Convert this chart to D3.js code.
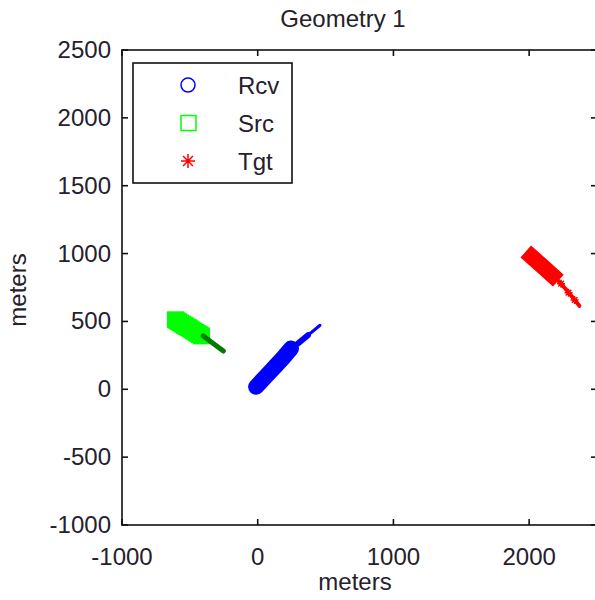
<!DOCTYPE html>
<html>
<head>
<meta charset="utf-8">
<script src="https://cdn.jsdelivr.net/npm/d3@7"></script>
<style>
  body { margin: 0; background: #fff; }
  svg { display: block; font-family: "Liberation Sans", Arial, sans-serif; }
</style>
</head>
<body>
<div id="chart"></div>
<script>
// axis ticks
var xTicks = [-1000, 0, 1000, 2000];
var yTicks = [-1000, -500, 0, 500, 1000, 1500, 2000, 2500];

// Rcv track (blue circles): thick body, then thin tail and tip
var rcvBodyX = [-12, 60, 130, 190, 245];
var rcvBodyY = [18, 95, 170, 235, 300];
var rcvTailX = [245, 300, 370];
var rcvTailY = [300, 340, 398];
var rcvTipX = [370, 415, 459];
var rcvTipY = [398, 435, 472];

// Src track (green squares) and its dark green tail
var srcBodyX = [-606, -594, -582, -568, -553, -540, -527, -512, -498, -484, -470, -455, -441, -428, -414];
var srcBodyY = [512, 505, 497, 489, 480, 471, 463, 455, 446, 437, 428, 419, 410, 402, 394];
var srcTailX = [-401, -330, -253];
var srcTailY = [393, 340, 282];

// Tgt track (red stars)
var tgtBodyX = [1975, 2100, 2215];
var tgtBodyY = [1015, 905, 800];
var tgtTailX = [2215, 2290, 2370];
var tgtTailY = [800, 715, 615];
var tgtSpikeX = [2235, 2290, 2335];
var tgtSpikeY = [778, 712, 658];

var legendNames = ["Rcv", "Src", "Tgt"];
var legendColors = ["#0000ff", "#00ff00", "#ff0000"];

var width = 595, height = 600;
var m = {left: 122, right: 597, top: 50, bottom: 525};

var svg = d3.select("#chart").append("svg")
    .attr("width", width)
    .attr("height", height);

var x = d3.scaleLinear().domain([-1000, 2500]).range([m.left, m.right]);
var y = d3.scaleLinear().domain([-1000, 2500]).range([m.bottom, m.top]);

function pts(xs, ys) {
    return xs.map(function (v, i) { return [v, ys[i]]; });
}
var line = d3.line()
    .x(function (d) { return x(d[0]); })
    .y(function (d) { return y(d[1]); });

// 8 point star like matlab '*'
function star(r) {
    var p = d3.path();
    for (var k = 0; k < 4; k++) {
        var a = k * Math.PI / 4;
        p.moveTo(-r * Math.cos(a), -r * Math.sin(a));
        p.lineTo(r * Math.cos(a), r * Math.sin(a));
    }
    return p.toString();
}

var plot = svg.append("g");

// Src
plot.selectAll(".src")
    .data(pts(srcBodyX, srcBodyY))
    .enter().append("rect")
    .attr("x", function (d) { return x(d[0]) - 8.5; })
    .attr("y", function (d) { return y(d[1]) - 8.5; })
    .attr("width", 17)
    .attr("height", 17)
    .attr("fill", "#00ff00");
plot.append("path")
    .attr("d", line(pts(srcTailX, srcTailY)))
    .attr("fill", "none")
    .attr("stroke", "#007a00")
    .attr("stroke-width", 5)
    .attr("stroke-linecap", "round");

// Rcv
plot.append("path")
    .attr("d", line(pts(rcvBodyX, rcvBodyY)))
    .attr("fill", "none")
    .attr("stroke", "#0000ff")
    .attr("stroke-width", 16)
    .attr("stroke-linecap", "round");
plot.append("path")
    .attr("d", line(pts(rcvTailX, rcvTailY)))
    .attr("fill", "none")
    .attr("stroke", "#0000ff")
    .attr("stroke-width", 6)
    .attr("stroke-linecap", "round");
plot.append("path")
    .attr("d", line(pts(rcvTipX, rcvTipY)))
    .attr("fill", "none")
    .attr("stroke", "#0000ff")
    .attr("stroke-width", 3)
    .attr("stroke-linecap", "round");

// Tgt
plot.append("path")
    .attr("d", line(pts(tgtBodyX, tgtBodyY)))
    .attr("fill", "none")
    .attr("stroke", "#ff0000")
    .attr("stroke-width", 16)
    .attr("stroke-linecap", "butt");
plot.append("path")
    .attr("d", line(pts(tgtTailX, tgtTailY)))
    .attr("fill", "none")
    .attr("stroke", "#ff0000")
    .attr("stroke-width", 4)
    .attr("stroke-linecap", "round");
plot.selectAll(".tgtSpike")
    .data(pts(tgtSpikeX, tgtSpikeY))
    .enter().append("path")
    .attr("transform", function (d) { return "translate(" + x(d[0]) + "," + y(d[1]) + ")"; })
    .attr("d", star(4))
    .attr("stroke", "#ff0000")
    .attr("stroke-width", 1.5);

// box and ticks
var ax = svg.append("g").attr("stroke", "#111").attr("stroke-width", 1.6);
ax.append("rect")
    .attr("x", m.left).attr("y", m.top)
    .attr("width", m.right - m.left).attr("height", m.bottom - m.top)
    .attr("fill", "none");
xTicks.forEach(function (t) {
    ax.append("line").attr("x1", x(t)).attr("x2", x(t)).attr("y1", m.bottom).attr("y2", m.bottom - 6);
    ax.append("line").attr("x1", x(t)).attr("x2", x(t)).attr("y1", m.top).attr("y2", m.top + 6);
});
yTicks.forEach(function (t) {
    ax.append("line").attr("x1", m.left).attr("x2", m.left + 6).attr("y1", y(t)).attr("y2", y(t));
    ax.append("line").attr("x1", m.right).attr("x2", m.right - 6).attr("y1", y(t)).attr("y2", y(t));
});

var lab = svg.append("g").attr("fill", "#26202c").attr("font-size", "24px");
xTicks.forEach(function (t) {
    lab.append("text")
        .attr("x", x(t)).attr("y", m.bottom + 40)
        .attr("text-anchor", "middle")
        .text(t);
});
yTicks.forEach(function (t) {
    lab.append("text")
        .attr("x", m.left - 11).attr("y", y(t) + 8)
        .attr("text-anchor", "end")
        .text(t);
});
lab.append("text")
    .attr("x", 355).attr("y", 590)
    .attr("text-anchor", "middle")
    .text("meters");
lab.append("text")
    .attr("transform", "translate(26," + 290 + ") rotate(-90)")
    .attr("text-anchor", "middle")
    .text("meters");
lab.append("text")
    .attr("x", 343).attr("y", 27)
    .attr("text-anchor", "middle")
    .text("Geometry 1");

// legend
var leg = svg.append("g");
leg.append("rect")
    .attr("x", 133).attr("y", 63)
    .attr("width", 159).attr("height", 120)
    .attr("fill", "#fff")
    .attr("stroke", "#111")
    .attr("stroke-width", 1.6);
legendNames.forEach(function (name, i) {
    var cy = 85 + i * 38;
    var c = legendColors[i];
    if (i === 0) {
        leg.append("circle").attr("cx", 188).attr("cy", cy).attr("r", 7)
            .attr("fill", "none").attr("stroke", c).attr("stroke-width", 1.5);
    } else if (i === 1) {
        leg.append("rect").attr("x", 181).attr("y", cy - 7.5).attr("width", 15).attr("height", 15)
            .attr("fill", "none").attr("stroke", c).attr("stroke-width", 1.5);
    } else {
        leg.append("path")
            .attr("transform", "translate(188," + cy + ")")
            .attr("d", star(7))
            .attr("fill", "none").attr("stroke", c).attr("stroke-width", 1.5);
    }
    leg.append("text")
        .attr("x", 238).attr("y", cy + 9)
        .attr("font-size", "24px")
        .attr("fill", "#26202c")
        .text(name);
});
</script>
</body>
</html>
